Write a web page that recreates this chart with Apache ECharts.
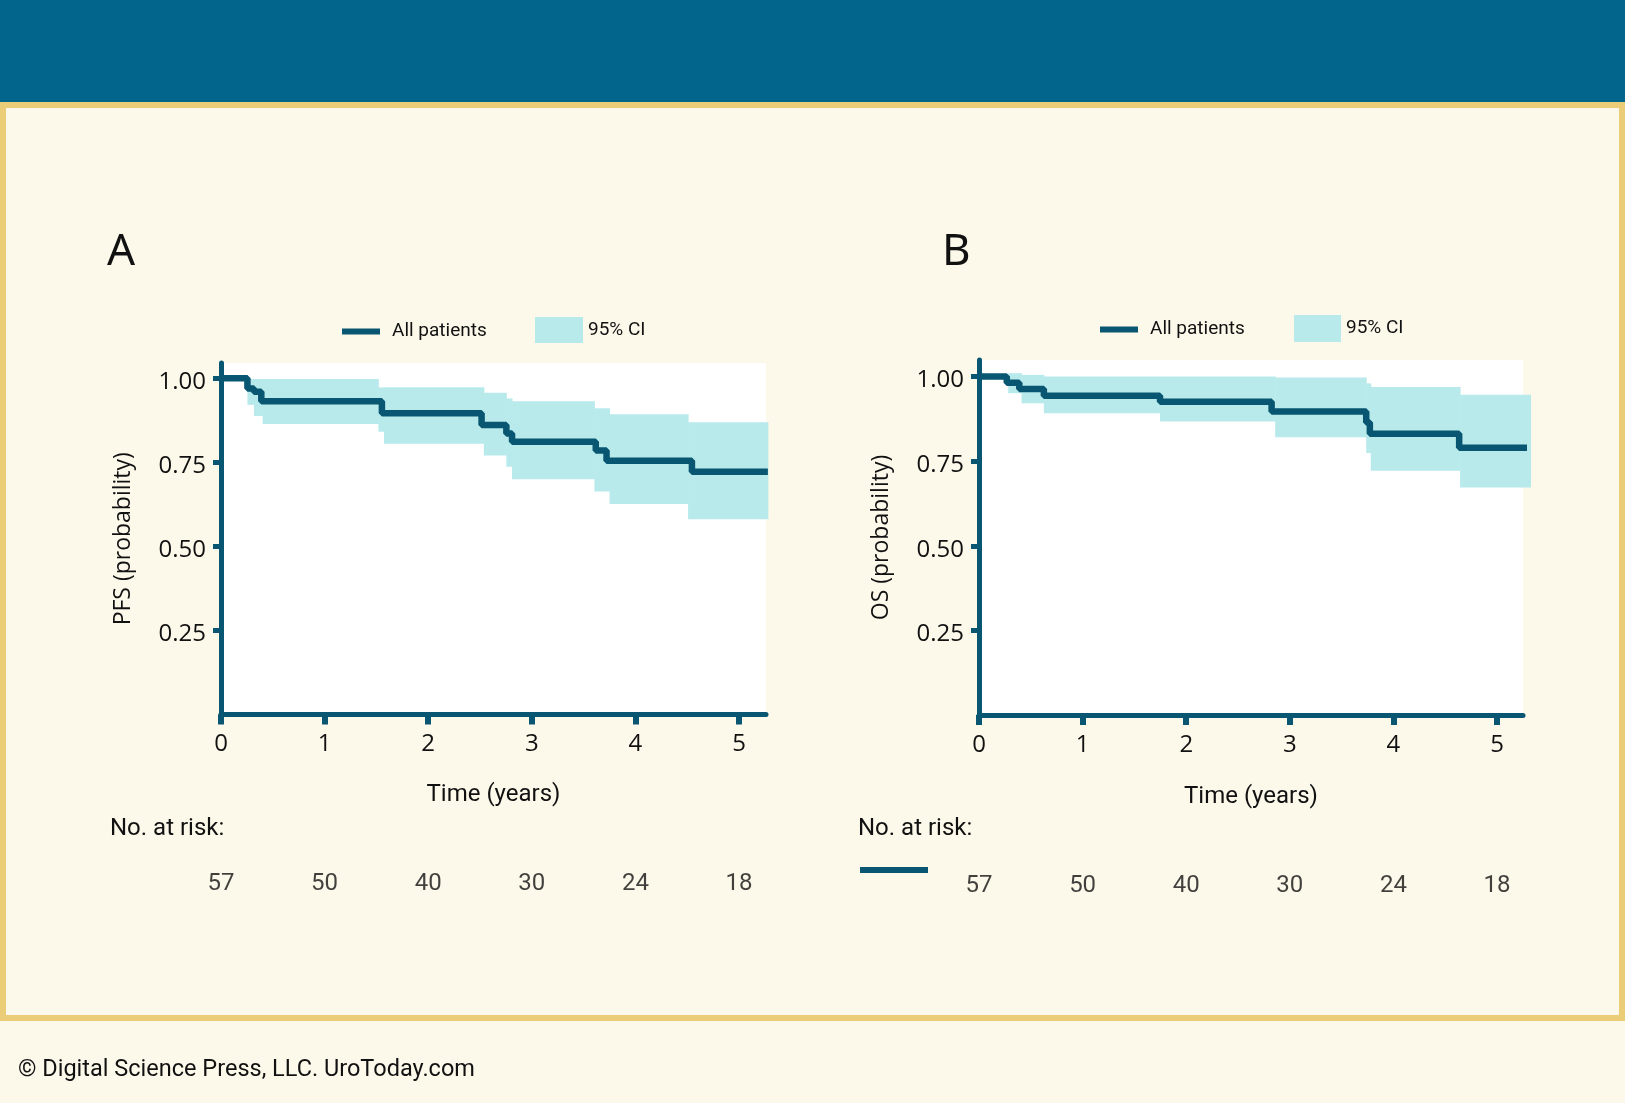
<!DOCTYPE html>
<html>
<head>
<meta charset="utf-8">
<title>PFS and OS, all patients</title>
<script src="https://cdn.jsdelivr.net/npm/echarts@6/dist/echarts.min.js"></script>
<style>
  html, body { margin: 0; padding: 0; background: #fdf9ea; }
  #chart { width: 1625px; height: 1103px; }
</style>
</head>
<body>
<div id="chart"></div>
<script>
// A: progression-free survival (step curve)
const pfsTimes = [0, 0.255, 0.318, 0.389, 1.553, 2.515, 2.754, 2.809, 3.617, 3.721, 4.545, 5.278];
const pfsSurv  = [1.0, 0.970, 0.960, 0.932, 0.896, 0.861, 0.836, 0.811, 0.785, 0.755, 0.722, 0.722];
// A: 95% CI steps (interval starts, last value is the end)
const pfsBandTimes = [0.255, 0.318, 0.402, 1.519, 1.573, 2.537, 2.754, 2.809, 3.604, 3.750, 4.508, 5.278];
const pfsUpper = [0.998, 0.998, 0.998, 0.973, 0.973, 0.957, 0.940, 0.932, 0.911, 0.893, 0.869];
const pfsLower = [0.921, 0.888, 0.864, 0.841, 0.805, 0.770, 0.737, 0.700, 0.663, 0.626, 0.581];

// B: overall survival
const osTimes = [0, 0.268, 0.389, 0.626, 1.747, 2.824, 3.737, 3.772, 4.634, 5.323];
const osSurv  = [1.0, 0.982, 0.963, 0.943, 0.926, 0.897, 0.864, 0.831, 0.790, 0.790];
const osBandTimes = [0.282, 0.411, 0.626, 1.747, 2.858, 3.737, 3.781, 4.643, 5.323];
const osUpper = [1.010, 1.005, 1.0, 1.0, 0.997, 0.980, 0.969, 0.946];
const osLower = [0.951, 0.921, 0.892, 0.867, 0.821, 0.774, 0.722, 0.672];

// axes + number at risk
const xTicks = [0, 1, 2, 3, 4, 5];
const yTicks = [0.25, 0.5, 0.75, 1.0];
const riskTimes = [0, 1, 2, 3, 4, 5];
const riskA = [57, 50, 40, 30, 24, 18];
const riskB = [57, 50, 40, 30, 24, 18];

const LINE = '#085671';
const BAND = '#b8eaeb';
const TEXT = '#111111';
const CONDENSED = 'Roboto, sans-serif';
const ROUND = "'Open Sans', sans-serif";

function stepData(times, surv) {
    return times.map(function (t, i) { return [t, surv[i]]; });
}

function bandData(times, upper, lower) {
    return upper.map(function (u, i) { return [times[i], times[i + 1], lower[i], u]; });
}

function kmLine(idx, data) {
    return {
        name: 'All patients', type: 'line', step: 'end',
        xAxisIndex: idx, yAxisIndex: idx,
        data: data, showSymbol: false, clip: false, z: 3,
        itemStyle: { color: LINE },
        lineStyle: { color: LINE, width: 6.5 },
    };
}

function ciBand(idx, data) {
    return {
        name: '95% CI', type: 'custom',
        xAxisIndex: idx, yAxisIndex: idx,
        encode: { x: [0, 1], y: [2, 3] },
        data: data, z: 1, silent: true,
        itemStyle: { color: BAND },
        renderItem: function (params, api) {
            const a = api.coord([api.value(0), api.value(3)]);
            const b = api.coord([api.value(1), api.value(2)]);
            return {
                type: 'rect',
                shape: { x: a[0], y: a[1], width: b[0] - a[0] + 0.5, height: b[1] - a[1] },
                style: { fill: BAND },
            };
        },
    };
}

function riskRow(idx, counts) {
    return {
        type: 'scatter', xAxisIndex: idx, yAxisIndex: idx,
        data: riskTimes.map(function (t, i) { return [t, 0.5, counts[i]]; }),
        symbolSize: 1, silent: true,
        itemStyle: { color: 'rgba(0,0,0,0)' },
        label: {
            show: true, position: 'inside',
            formatter: function (p) { return String(p.value[2]); },
            fontFamily: CONDENSED, fontSize: 24, color: TEXT,
        },
    };
}

function timeAxis(idx, max, gap) {
    return {
        type: 'value', gridIndex: idx, min: 0, max: max,
        name: 'Time (years)', nameLocation: 'middle', nameGap: gap,
        nameTextStyle: { fontFamily: CONDENSED, fontSize: 24, color: TEXT },
        axisLine: { show: true, lineStyle: { color: LINE, width: 5 } },
        axisTick: { show: true, length: 10, lineStyle: { color: LINE, width: 6 }, customValues: xTicks },
        axisLabel: { fontFamily: ROUND, fontSize: 24, color: TEXT, margin: 18, customValues: xTicks },
        splitLine: { show: false },
    };
}

function probAxis(idx, max, name) {
    return {
        type: 'value', gridIndex: idx, min: 0, max: max,
        name: name, nameLocation: 'middle', nameGap: 86, nameRotate: 90,
        nameTextStyle: { fontFamily: ROUND, fontSize: 23, color: TEXT },
        axisLine: { show: true, lineStyle: { color: LINE, width: 5 } },
        axisTick: { show: true, length: 8, lineStyle: { color: LINE, width: 5 }, customValues: yTicks },
        axisLabel: {
            fontFamily: ROUND, fontSize: 24, color: TEXT, margin: 15, customValues: yTicks,
            verticalAlign: 'top', lineHeight: 8,
            formatter: function (v) { return v.toFixed(2); },
        },
        splitLine: { show: false },
    };
}

function hiddenAxis(idx, max) {
    return { type: 'value', gridIndex: idx, min: 0, max: max, show: false };
}

function legendItem(left, top, name, w, h, color) {
    return {
        left: left, top: top, padding: 0, selectedMode: false,
        itemWidth: w, itemHeight: h, icon: 'rect',
        data: [{ name: name, itemStyle: { color: color } }],
        textStyle: {
            fontFamily: CONDENSED, fontSize: 19, color: TEXT,
            padding: name === 'All patients' ? [2, 0, 0, 7] : [6, 0, 0, 0],
        },
    };
}

let chart = echarts.init(document.getElementById('chart'), null, { renderer: 'canvas' });

const option = {
    backgroundColor: '#fdf9ea',
    animation: false,
    title: [
        { text: 'A', left: 107, top: 230, padding: 0,
          textStyle: { fontFamily: "'Noto Sans', sans-serif", fontSize: 44, fontWeight: 'normal', color: TEXT } },
        { text: 'B', left: 942, top: 230, padding: 0,
          textStyle: { fontFamily: "'Noto Sans', sans-serif", fontSize: 44, fontWeight: 'normal', color: TEXT } },
    ],
    legend: [
        legendItem(342, 322, 'All patients', 38, 6, LINE),
        legendItem(535, 317, '95% CI', 48, 26, BAND),
        legendItem(1100, 320, 'All patients', 38, 6, LINE),
        legendItem(1294, 315, '95% CI', 47, 27, BAND),
    ],
    grid: [
        { left: 221, top: 363, width: 545, height: 351.5, show: true, backgroundColor: '#ffffff', borderWidth: 0 },
        { left: 979, top: 360, width: 544, height: 355, show: true, backgroundColor: '#ffffff', borderWidth: 0 },
        { left: 221, top: 883, width: 545, height: 2 },
        { left: 979, top: 885, width: 544, height: 2 },
    ],
    xAxis: [
        timeAxis(0, 5.26, 68),
        timeAxis(1, 5.25, 70),
        hiddenAxis(2, 5.26),
        hiddenAxis(3, 5.25),
    ],
    yAxis: [
        probAxis(0, 1.0455, 'PFS (probability)'),
        probAxis(1, 1.049, 'OS (probability)'),
        hiddenAxis(2, 1),
        hiddenAxis(3, 1),
    ],
    series: [
        ciBand(0, bandData(pfsBandTimes, pfsUpper, pfsLower)),
        kmLine(0, stepData(pfsTimes, pfsSurv)),
        ciBand(1, bandData(osBandTimes, osUpper, osLower)),
        kmLine(1, stepData(osTimes, osSurv)),
        riskRow(2, riskA),
        riskRow(3, riskB),
    ],
    graphic: [
        // header band and frame
        { type: 'rect', z: 0, shape: { x: 0, y: 0, width: 1625, height: 102 }, style: { fill: '#02658b' } },
        { type: 'rect', z: 0, shape: { x: 3, y: 105, width: 1619, height: 913 },
          style: { fill: 'none', stroke: '#ebcd78', lineWidth: 6 } },
        { type: 'text', left: 110, top: 817,
          style: { text: 'No. at risk:', font: '24px ' + CONDENSED, fill: TEXT } },
        { type: 'text', left: 858, top: 817,
          style: { text: 'No. at risk:', font: '24px ' + CONDENSED, fill: TEXT } },
        { type: 'rect', shape: { x: 860, y: 867, width: 68, height: 6 }, style: { fill: LINE } },
        { type: 'text', left: 18, top: 1058,
          style: { text: '\u00a9 Digital Science Press, LLC. UroToday.com', font: '23.5px ' + CONDENSED, fill: TEXT } },
    ],
};

chart.setOption(option);
</script>
</body>
</html>
